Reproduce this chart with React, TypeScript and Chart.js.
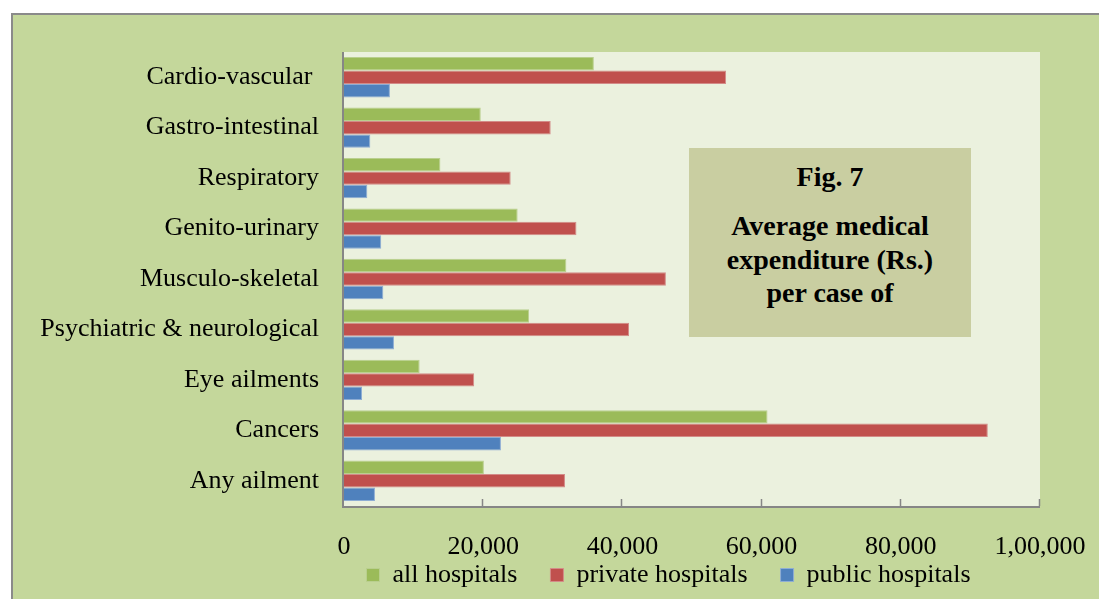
import React, { useEffect, useRef } from "react";
import { Chart, registerables } from "chart.js";

Chart.register(...registerables);

const categories = [
  "Cardio-vascular ",
  "Gastro-intestinal",
  "Respiratory",
  "Genito-urinary",
  "Musculo-skeletal",
  "Psychiatric & neurological",
  "Eye ailments",
  "Cancers",
  "Any ailment",
];
const allHospitals = [35900, 19650, 13850, 24950, 31950, 26600, 10870, 60850, 20100];
const privateHospitals = [54900, 29700, 23950, 33400, 46250, 40950, 18700, 92500, 31750];
const publicHospitals = [6600, 3780, 3350, 5350, 5650, 7180, 2600, 22550, 4450];
const seriesNames = ["all hospitals", "private hospitals", "public hospitals"];
const tickLabels = ["0", "20,000", "40,000", "60,000", "80,000", "1,00,000"];
const figTitle = "Fig. 7";
const figLines = ["Average medical", "expenditure (Rs.)", "per case of"];

const FONT = '"Liberation Serif", "Times New Roman", Times, serif';
const AXIS_GRAY = "#868686";
const LABEL_SIZE = 26;

const plotBg = {
  id: "plotBg",
  beforeDraw(chart: any) {
    const { ctx, chartArea } = chart;
    ctx.save();
    ctx.fillStyle = "#EBF1DE";
    ctx.fillRect(chartArea.left, chartArea.top, chartArea.right - chartArea.left, chartArea.bottom - chartArea.top);
    ctx.restore();
  },
};

const innerTicks = {
  id: "innerTicks",
  afterDatasetsDraw(chart: any) {
    const { ctx, chartArea } = chart;
    const xs = chart.scales.x;
    ctx.save();
    ctx.strokeStyle = AXIS_GRAY;
    ctx.lineWidth = 1.5;
    xs.ticks.forEach((t: any) => {
      if (t.value === 0) return;
      const px = Math.round(xs.getPixelForValue(t.value)) - 0.5;
      ctx.beginPath();
      ctx.moveTo(px, chartArea.bottom - 7);
      ctx.lineTo(px, chartArea.bottom);
      ctx.stroke();
    });
    ctx.lineWidth = 2;
    ctx.beginPath();
    ctx.moveTo(chartArea.left - 1, chartArea.top);
    ctx.lineTo(chartArea.left - 1, chartArea.bottom + 1);
    ctx.lineTo(chartArea.right, chartArea.bottom + 1);
    ctx.stroke();
    ctx.restore();
  },
};

function widestLabel(): number {
  const c = document.createElement("canvas");
  const g = c.getContext("2d");
  if (!g) return 284;
  g.font = `${LABEL_SIZE}px ${FONT}`;
  return Math.max(...categories.map((t) => g.measureText(t).width));
}

export default function App() {
  const canvasRef = useRef<HTMLCanvasElement | null>(null);

  useEffect(() => {
    const canvas = canvasRef.current;
    if (!canvas) return;
    const widest = widestLabel();
    const chart = new Chart(canvas, {
      type: "bar",
      data: {
        labels: categories,
        datasets: [
          {
            label: seriesNames[0],
            data: allHospitals,
            backgroundColor: "#9BBB59",
            borderColor: "#B9CF8E",
            borderWidth: 1,
            borderSkipped: "start",
          },
          {
            label: seriesNames[1],
            data: privateHospitals,
            backgroundColor: "#C0504D",
            borderColor: "#D38B88",
            borderWidth: 1,
            borderSkipped: "start",
          },
          {
            label: seriesNames[2],
            data: publicHospitals,
            backgroundColor: "#4F81BD",
            borderColor: "#8EADD4",
            borderWidth: 1,
            borderSkipped: "start",
          },
        ],
      },
      options: {
        indexAxis: "y",
        responsive: false,
        animation: false,
        devicePixelRatio: 1,
        layout: { padding: { left: 297, right: 59, top: 52, bottom: 1 } },
        datasets: {
          bar: { categoryPercentage: 0.8, barPercentage: 1.0 },
        },
        scales: {
          x: {
            type: "linear",
            min: 0,
            max: 100000,
            grid: { display: false },
            border: { display: false },
            ticks: {
              stepSize: 20000,
              mirror: true,
              padding: -56.6,
              color: "#000",
              font: { family: FONT, size: LABEL_SIZE, lineHeight: 1.2 },
              maxRotation: 0,
              autoSkip: false,
              callback: (_v: any, i: number) => tickLabels[i],
            },
            afterFit: (s: any) => {
              s.height = 23;
              s.paddingLeft = 0;
              s.paddingRight = 0;
            },
          },
          y: {
            type: "category",
            grid: { display: false },
            border: { display: false },
            ticks: {
              mirror: true,
              crossAlign: "far",
              padding: -25 - widest,
              color: "#000",
              font: { family: FONT, size: LABEL_SIZE },
              autoSkip: false,
            },
            afterFit: (s: any) => {
              s.width = 47;
              s.paddingTop = 0;
              s.paddingBottom = 0;
            },
          },
        },
        plugins: {
          legend: {
            position: "bottom",
            labels: {
              boxWidth: 13,
              boxHeight: 13,
              padding: 33,
              color: "#000",
              font: { family: FONT, size: LABEL_SIZE },
            },
          },
          tooltip: { enabled: false },
        },
      },
      plugins: [plotBg, innerTicks],
    } as any);
    return () => chart.destroy();
  }, []);

  return (
    <div
      style={{
        position: "fixed",
        left: 0,
        top: 0,
        width: 1099,
        height: 599,
        overflow: "hidden",
        background: "#fff",
      }}
    >
      <div
        style={{
          position: "absolute",
          left: 11,
          top: 13,
          width: 1200,
          height: 700,
          border: "2px solid #8A8A8A",
          background: "#C4D79B",
        }}
      />
      <canvas
        ref={canvasRef}
        width={1099}
        height={599}
        style={{ position: "absolute", left: 0, top: 0, width: 1099, height: 599 }}
      />
      <div
        style={{
          position: "absolute",
          left: 689,
          top: 148,
          width: 282,
          height: 189,
          background: "#C9CEA1",
          fontFamily: FONT,
          fontWeight: "bold",
          fontSize: 28,
          color: "#000",
        }}
      >
        <div style={{ position: "absolute", left: 0, top: 14, width: "100%", textAlign: "center", lineHeight: "30px" }}>
          {figTitle}
        </div>
        {figLines.map((t, i) => (
          <div
            key={t}
            style={{
              position: "absolute",
              left: 0,
              top: 63 + i * 33.5,
              width: "100%",
              textAlign: "center",
              lineHeight: "30px",
              whiteSpace: "nowrap",
            }}
          >
            {t}
          </div>
        ))}
      </div>
    </div>
  );
}
